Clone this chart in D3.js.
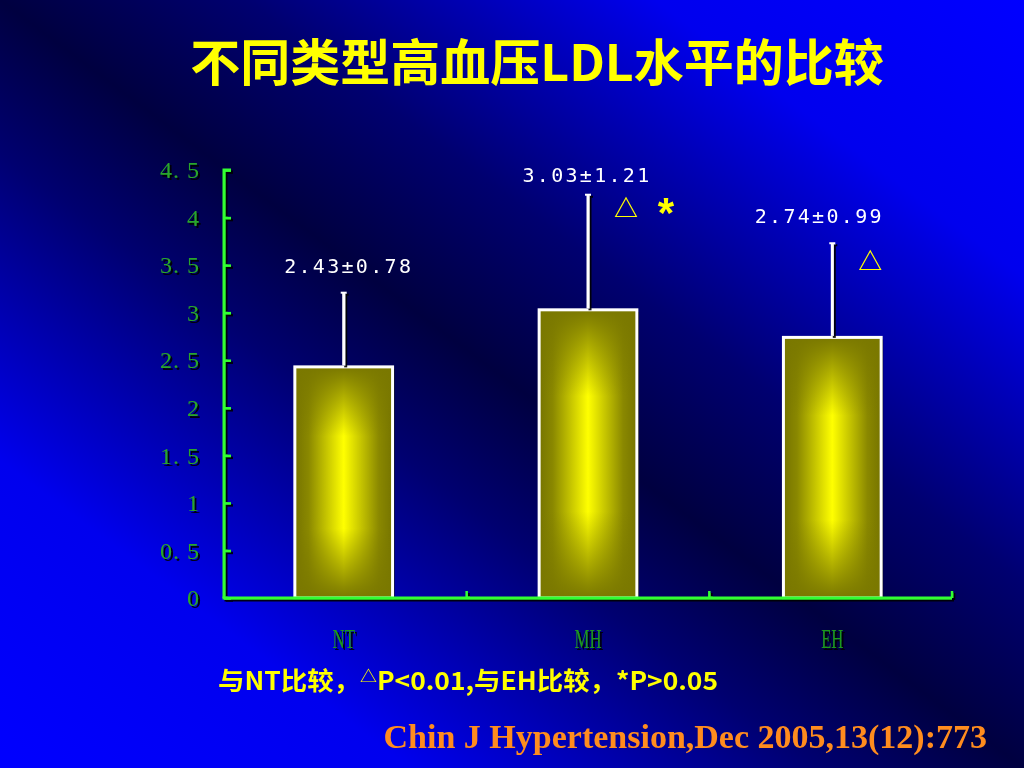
<!DOCTYPE html>
<html>
<head>
<meta charset="utf-8">
<script src="https://cdn.jsdelivr.net/npm/d3@7"></script>
<style>
  html, body { margin: 0; padding: 0; background: #000040; }
  svg { display: block; }
</style>
</head>
<body>
<script>
// ---- data ----
const categories = ["NT", "MH", "EH"];
const means = [2.43, 3.03, 2.74];
const sds = [0.78, 1.21, 0.99];
const valueLabels = ["2.43±0.78", "3.03±1.21", "2.74±0.99"];
const sigMarks = [[], ["△", "*"], ["△"]];
const yTicks = [0, 0.5, 1, 1.5, 2, 2.5, 3, 3.5, 4, 4.5];
const yTickLabels = ["0", "0. 5", "1", "1. 5", "2", "2. 5", "3", "3. 5", "4", "4. 5"];
const titleText = "不同类型高血压LDL水平的比较";
const noteParts = ["与NT比较，", "△", "P<0.01,与EH比较，*P>0.05"];
const citation = "Chin J Hypertension,Dec 2005,13(12):773";

// ---- layout ----
const W = 1024, H = 768;
const plot = { left: 224, right: 952, top: 170, bottom: 598 };

const svg = d3.select("body").append("svg").attr("width", W).attr("height", H);
const defs = svg.append("defs");

const bg = defs.append("linearGradient").attr("id", "bg")
  .attr("x1", 0).attr("y1", 1).attr("x2", 1).attr("y2", 0);
[[0, "#0000ff"], [0.2, "#0000ee"], [0.4, "#000070"], [0.5, "#000040"], [0.62, "#000070"], [0.82, "#0000ee"], [1, "#0000ff"]]
  .forEach(([o, c]) => bg.append("stop").attr("offset", o).attr("stop-color", c));

const barH = defs.append("linearGradient").attr("id", "barH")
  .attr("x1", 0).attr("y1", 0).attr("x2", 1).attr("y2", 0);
[[0, "#767400"], [0.14, "#8a8800"], [0.5, "#ffff00"], [0.86, "#8a8800"], [1, "#767400"]]
  .forEach(([o, c]) => barH.append("stop").attr("offset", o).attr("stop-color", c));
const barV = defs.append("linearGradient").attr("id", "barV")
  .attr("x1", 0).attr("y1", 0).attr("x2", 0).attr("y2", 1);
[[0, 1], [0.05, 0.85], [0.3, 0], [0.7, 0], [0.95, 0.85], [1, 1]]
  .forEach(([o, a]) => barV.append("stop").attr("offset", o).attr("stop-color", "#7a7800").attr("stop-opacity", a));

const sh = defs.append("filter").attr("id", "shadow").attr("x", -0.2).attr("y", -0.2).attr("width", 1.5).attr("height", 1.5);
sh.append("feDropShadow").attr("dx", 2).attr("dy", 2).attr("stdDeviation", 0.6)
  .attr("flood-color", "#000000").attr("flood-opacity", 0.9);

svg.append("rect").attr("width", W).attr("height", H).attr("fill", "url(#bg)");

// title
svg.append("text")
  .attr("x", 537).attr("y", 81)
  .attr("text-anchor", "middle")
  .attr("font-family", "'Noto Sans CJK SC', sans-serif")
  .attr("font-weight", 700)
  .attr("font-size", 50)
  .attr("fill", "#ffff00")
  .text(titleText);

// scales
const x = d3.scaleBand().domain(categories)
  .range([plot.left, plot.right]).paddingInner(0.6).paddingOuter(0.29);
const y = d3.scaleLinear().domain([0, 4.5]).range([plot.bottom, plot.top]);

const data = categories.map((c, i) => ({ c, m: means[i], s: sds[i], lab: valueLabels[i], sig: sigMarks[i] }));

// bars
const bars = svg.append("g");
bars.selectAll("rect.base").data(data).join("rect").attr("class", "base")
  .attr("x", d => x(d.c)).attr("y", d => y(d.m))
  .attr("width", x.bandwidth()).attr("height", d => y(0) - y(d.m))
  .attr("fill", "url(#barH)")
  .attr("filter", "url(#shadow)");
bars.selectAll("rect.over").data(data).join("rect").attr("class", "over")
  .attr("x", d => x(d.c)).attr("y", d => y(d.m))
  .attr("width", x.bandwidth()).attr("height", d => y(0) - y(d.m))
  .attr("fill", "url(#barV)")
  .attr("stroke", "#ffffff").attr("stroke-width", 3);

// error bars
const err = svg.append("g").attr("filter", "url(#shadow)");
err.selectAll("line.v").data(data).join("line").attr("class", "v")
  .attr("x1", d => x(d.c) + x.bandwidth() / 2).attr("x2", d => x(d.c) + x.bandwidth() / 2)
  .attr("y1", d => y(d.m) - 1.5).attr("y2", d => y(d.m + d.s))
  .attr("stroke", "#ffffff").attr("stroke-width", 3);
err.selectAll("line.c").data(data).join("line").attr("class", "c")
  .attr("x1", d => x(d.c) + x.bandwidth() / 2 - 3).attr("x2", d => x(d.c) + x.bandwidth() / 2 + 3)
  .attr("y1", d => y(d.m + d.s)).attr("y2", d => y(d.m + d.s))
  .attr("stroke", "#ffffff").attr("stroke-width", 2);

// axes
const axisColor = "#33ff33";
const axG = svg.append("g").attr("filter", "url(#shadow)");
const yAxis = d3.axisLeft(y).tickValues(yTicks).tickSize(-7).tickPadding(24)
  .tickFormat((d, i) => yTickLabels[i]);
const yg = axG.append("g").attr("transform", `translate(${plot.left},0)`).call(yAxis);
yg.select(".domain").attr("d", `M7,${plot.top}H0V${plot.bottom}`)
  .attr("stroke", axisColor).attr("stroke-width", 3).attr("fill", "none");
yg.selectAll(".tick line").attr("stroke", axisColor).attr("stroke-width", 2.5);
yg.selectAll(".tick text")
  .attr("fill", "#2aa62a")
  .attr("font-family", "'Liberation Serif', serif")
  .attr("font-size", 24)
  .attr("letter-spacing", 1);

const bandW = (plot.right - plot.left) / categories.length;
const xTickVals = categories.map((c, i) => plot.left + bandW * (i + 1));
const xAx = axG.append("g");
xAx.append("line").attr("x1", plot.left - 1.5).attr("x2", plot.right).attr("y1", plot.bottom).attr("y2", plot.bottom)
  .attr("stroke", axisColor).attr("stroke-width", 3);
xAx.selectAll("line.t").data(xTickVals).join("line").attr("class", "t")
  .attr("x1", d => d).attr("x2", d => d).attr("y1", plot.bottom).attr("y2", plot.bottom - 7)
  .attr("stroke", axisColor).attr("stroke-width", 2.5);

// x labels
svg.append("g").attr("filter", "url(#shadow)")
  .selectAll("text").data(categories).join("text")
  .attr("transform", d => `translate(${x(d) + x.bandwidth() / 2},648) scale(0.62,1)`)
  .attr("text-anchor", "middle")
  .attr("font-family", "'Liberation Serif', serif")
  .attr("font-size", 27)
  .attr("fill", "#1e9a1e")
  .text(d => d);

// value labels
const labelDx = [5, -1, -13];
const labelDy = [-20, -13, -20];
svg.append("g").selectAll("text").data(data).join("text")
  .attr("x", (d, i) => x(d.c) + x.bandwidth() / 2 + labelDx[i])
  .attr("y", (d, i) => y(d.m + d.s) + labelDy[i])
  .attr("text-anchor", "middle")
  .attr("font-family", "'DejaVu Sans Mono', monospace")
  .attr("font-size", 20)
  .attr("letter-spacing", 2.3)
  .attr("fill", "#ffffff")
  .text(d => d.lab);

// significance marks
const marks = [];
data.forEach(d => d.sig.forEach((s, j) => marks.push({ d, s, j })));
svg.append("g").selectAll("text").data(marks).join("text")
  .attr("x", m => x(m.d.c) + x.bandwidth() / 2 + 38 + m.j * 40)
  .attr("y", m => y(m.d.m + m.d.s) + (m.s === "*" ? 32 : 22) + (m.d.c === "EH" ? 5 : 0))
  .attr("text-anchor", "middle")
  .attr("font-family", m => m.s === "*" ? "'Liberation Sans', sans-serif" : "'Noto Sans CJK SC', sans-serif")
  .attr("font-weight", 700)
  .attr("font-size", m => m.s === "*" ? 42 : 24)
  .attr("fill", "#ffff00")
  .text(m => m.s);

// footnote
const note = svg.append("text")
  .attr("x", 218).attr("y", 690)
  .attr("font-family", "'Noto Sans CJK SC', sans-serif")
  .attr("font-weight", 700)
  .attr("font-size", 25)
  .attr("fill", "#ffff00")
  .attr("textLength", 500)
  .attr("lengthAdjust", "spacingAndGlyphs");
note.append("tspan").text(noteParts[0]);
note.append("tspan").attr("font-size", 16).attr("font-weight", 400).attr("dy", -8).text(noteParts[1]);
note.append("tspan").attr("dy", 8).text(noteParts[2]);

// citation
svg.append("text")
  .attr("x", 987).attr("y", 748)
  .attr("text-anchor", "end")
  .attr("font-family", "'Liberation Serif', serif")
  .attr("font-weight", 700)
  .attr("font-size", 34)
  .attr("fill", "#ff8c1e")
  .text(citation);
</script>
</body>
</html>
